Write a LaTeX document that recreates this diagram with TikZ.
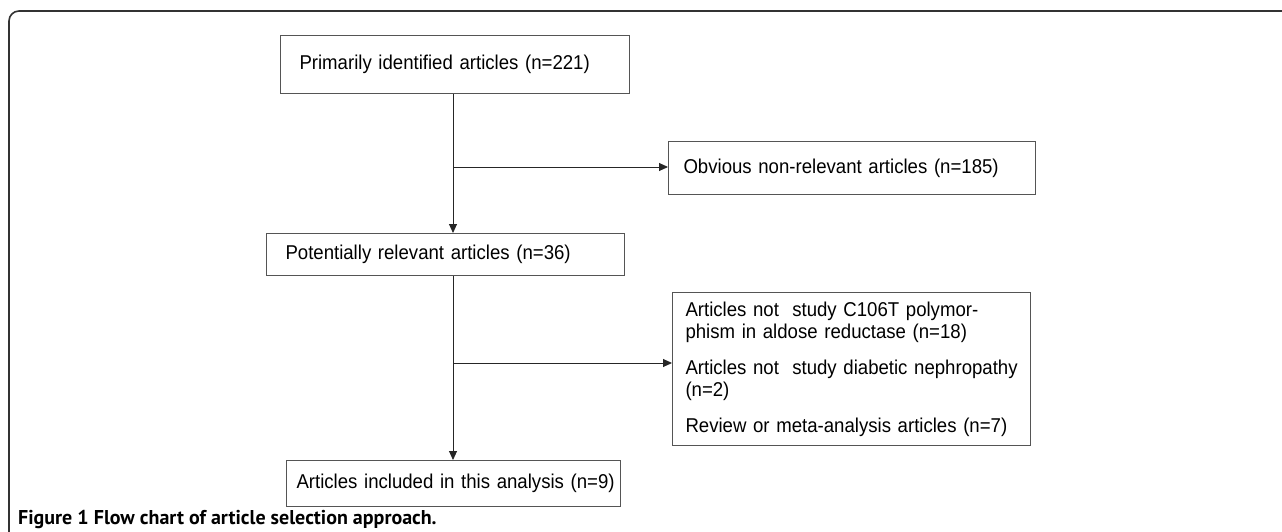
\documentclass[tikz,border=0pt]{standalone}
\usepackage{fontspec}
\setmainfont{Liberation Sans}[FakeStretch=0.93]
\newfontfamily\capfont{PT Sans}
\usetikzlibrary{arrows.meta,calc}
\definecolor{boxline}{HTML}{555555}
\definecolor{frameline}{HTML}{333333}
\begin{document}
\begin{tikzpicture}[x=1pt,y=-1pt,
  flowbox/.style={draw=boxline,line width=1pt,rectangle,inner ysep=0pt,align=left,
    font=\fontsize{20}{22}\selectfont,anchor=north west},
  link/.style={draw=black!85,line width=0.9pt},
  arr/.style={link,-{Triangle[length=9pt,width=8pt]}}]
\useasboundingbox (0,0) rectangle (1282,532);
\draw[frameline,line width=1.6pt] (1282,11) -- (19,11) arc[start angle=270,end angle=180,radius=10] -- (9,532);
\node[flowbox,minimum width=349pt,minimum height=58pt,text width=311pt,inner xsep=19pt] (b1) at (280,35) {\mbox{Primarily identified articles (n=221)}};
\node[flowbox,minimum width=367pt,minimum height=53pt,text width=337pt,inner xsep=15pt] (b2) at (668,141) {\mbox{Obvious non-relevant articles (n=185)}};
\node[flowbox,minimum width=358pt,minimum height=42pt,text width=320pt,inner xsep=19pt] (b3) at (266,233) {\mbox{Potentially relevant articles (n=36)}};
\node[flowbox,minimum width=358pt,minimum height=153pt,text width=332pt,inner xsep=13pt] (b4) at (672,292) {\mbox{Articles not\ \ study C106T polymor-}\\\mbox{phism in aldose reductase (n=18)}\\[14pt]\mbox{Articles not\ \ study diabetic nephropathy}\\\mbox{(n=2)}\\[14pt]\mbox{Review or meta-analysis articles (n=7)}};
\node[flowbox,minimum width=334pt,minimum height=46pt,text width=314pt,inner xsep=10pt] (b5) at (286,460) {\mbox{Articles included in this analysis (n=9)}};
\coordinate (sx) at (453,0);
\coordinate (j1) at (453,167);
\coordinate (j2) at (453,363);
\draw[arr] (b1.south -| sx) -- (b3.north -| sx);
\draw[arr] (j1) -- (j1 -| b2.west);
\draw[arr] (b3.south -| sx) -- (b5.north -| sx);
\draw[arr] (j2) -- (j2 -| b4.west);
\node[anchor=base west,inner sep=0pt,font=\capfont\bfseries\fontsize{20}{22}\selectfont] (cap) at (18,524) {Figure 1 Flow chart of article selection approach.};
\end{tikzpicture}
\end{document}
